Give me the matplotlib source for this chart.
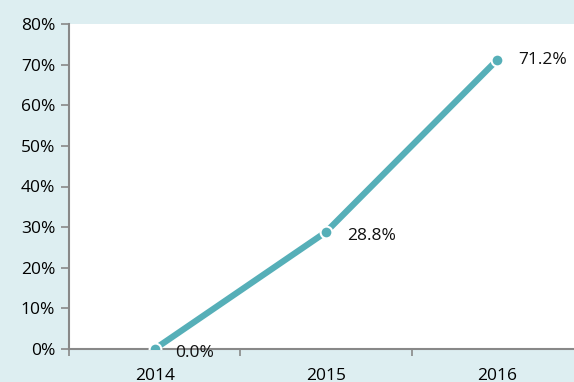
import matplotlib.pyplot as plt
from matplotlib.ticker import FixedLocator, PercentFormatter

years = ['2014', '2015', '2016']
values = [0.0, 28.8, 71.2]
labels = ['0.0%', '28.8%', '71.2%']

bg = '#DDEEF1'
teal = '#56AFB8'
gray = '#888888'

plt.rcParams['font.family'] = ['Open Sans', 'DejaVu Sans']

fig = plt.figure(figsize=(5.74, 3.82), dpi=100, facecolor=bg)
ax = fig.add_axes([69 / 574, 33 / 382, 514 / 574, 325 / 382])
ax.set_facecolor('white')

x = list(range(len(years)))
ax.plot(x, values, color=teal, lw=4.5, solid_capstyle='butt', zorder=2)
ax.plot(x, values, 'o', ms=8.5, mfc=teal, mec='white', mew=1.5, zorder=3)

for xi, v, t in zip(x, values, labels):
    ax.annotate(t, (xi, v), xytext=(15, -3 if v < 50 else 0), textcoords='offset points',
                va='center', ha='left', fontsize=12.5, color='#111111', clip_on=False)

ax.set_xlim(-0.5, 2.5)
ax.set_ylim(0, 80)
ax.yaxis.set_major_locator(FixedLocator(range(0, 81, 10)))
ax.yaxis.set_major_formatter(PercentFormatter(decimals=0))

ax.xaxis.set_major_locator(FixedLocator([-0.5, 0.5, 1.5, 2.5]))
ax.xaxis.set_major_formatter(plt.NullFormatter())
ax.xaxis.set_minor_locator(FixedLocator(x))
ax.set_xticklabels(years, minor=True)
ax.tick_params(axis='x', which='major', direction='out', length=5, color=gray, width=1.2)
ax.tick_params(axis='x', which='minor', length=0, pad=14, labelsize=12.5)
ax.tick_params(axis='y', direction='out', length=6, color=gray, width=1.2, labelsize=12.5, pad=4)

for s in ['top', 'right']:
    ax.spines[s].set_visible(False)
for s in ['left', 'bottom']:
    ax.spines[s].set_color(gray)
    ax.spines[s].set_linewidth(1.5)

fig.savefig('out.png', dpi=100, facecolor=bg)
